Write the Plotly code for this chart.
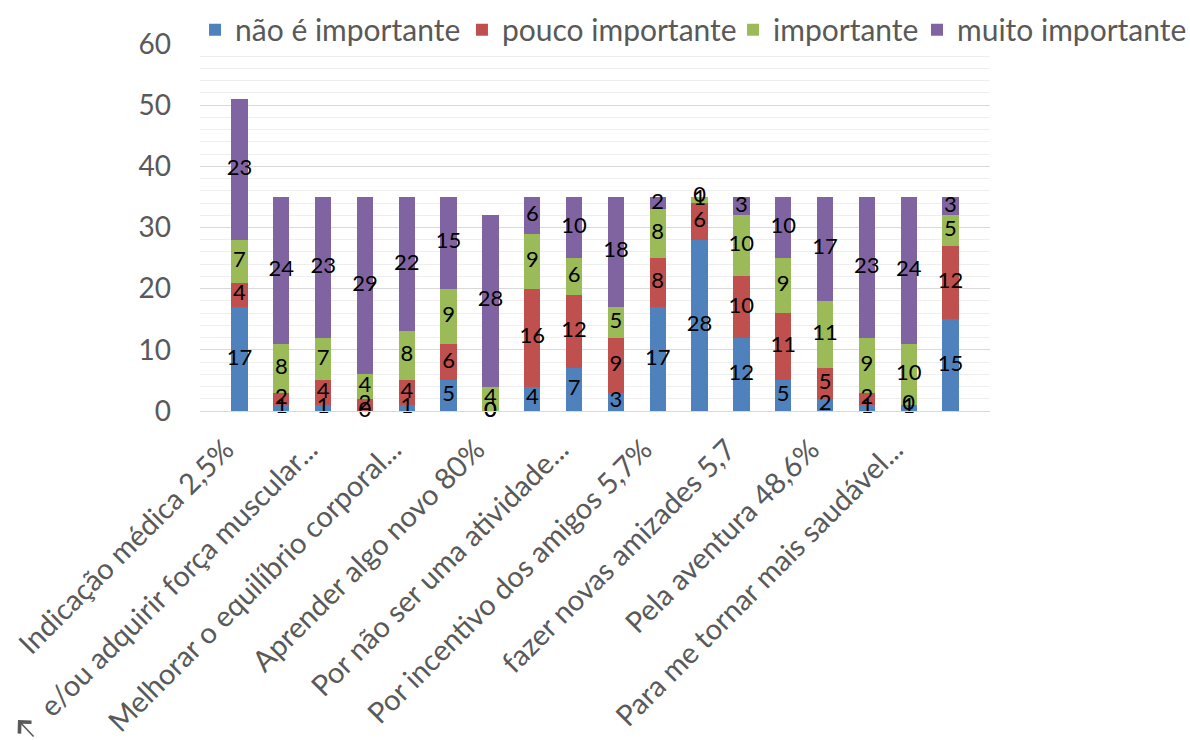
import plotly.graph_objects as go

categories = [
    "Indicação médica 2,5%",
    "Melhorar a condição física",
    "e/ou adquirir força muscular...",
    "Reduzir o estresse",
    "Melhorar o equilíbrio corporal...",
    "Melhorar a flexibilidade",
    "Aprender algo novo 80%",
    "Pelo contato com a natureza",
    "Por não ser uma atividade...",
    "Pela sensação de liberdade",
    "Por incentivo dos amigos 5,7%",
    "Para conhecer novos lugares",
    "fazer novas amizades 5,7",
    "Por lazer",
    "Pela aventura 48,6%",
    "Para superar desafios",
    "Para me tornar mais saudável...",
    "Por diversão",
]

series_names = ["não é importante", "pouco importante", "importante", "muito importante"]
nao_importante = [17, 1, 1, 0, 1, 5, 0, 4, 7, 3, 17, 28, 12, 5, 2, 1, 1, 15]
pouco_importante = [4, 2, 4, 2, 4, 6, 0, 16, 12, 9, 8, 6, 10, 11, 5, 2, 0, 12]
importante = [7, 8, 7, 4, 8, 9, 4, 9, 6, 5, 8, 1, 10, 9, 11, 9, 10, 5]
muito_importante = [23, 24, 23, 29, 22, 15, 28, 6, 10, 18, 2, 0, 3, 10, 17, 23, 24, 3]

y_ticks = [0, 10, 20, 30, 40, 50, 60]
shown_tick_idx = list(range(0, 18, 2))

colors = ["#4F81BD", "#C0504D", "#9BBB59", "#8064A2"]
series = [nao_importante, pouco_importante, importante, muito_importante]
legend_ids = ["legend", "legend2", "legend3", "legend4"]
legend_x = [0.1639, 0.3882, 0.6160, 0.7706]

FONT = "Lato"
fig = go.Figure()

for name, vals, col, lid in zip(series_names, series, colors, legend_ids):
    fig.add_trace(go.Bar(
        x=categories, y=vals, name=name,
        marker=dict(color=col, line=dict(width=0)),
        hoverinfo="skip", legend=lid,
    ))

# data labels centered in each segment
base = [0] * len(categories)
for vals in series:
    mids = [b + v / 2 for b, v in zip(base, vals)]
    fig.add_trace(go.Scatter(
        x=categories, y=mids, mode="text",
        text=[str(v) for v in vals],
        textposition="middle center",
        textfont=dict(family=FONT, size=22, color="#000000"),
        showlegend=False, hoverinfo="skip", cliponaxis=False,
    ))
    base = [b + v for b, v in zip(base, vals)]

# small clipped arrow glyph at the bottom-left corner
fig.add_annotation(
    x=-0.2304, y=-0.842, xref="paper", yref="paper",
    ax=17, ay=18, axref="pixel", ayref="pixel",
    text="", showarrow=True,
    arrowhead=4, arrowsize=2, arrowwidth=1.6, arrowcolor="#595959",
)

legend_common = dict(
    orientation="h", xref="container", yref="container",
    y=0.995, xanchor="left", yanchor="top",
    font=dict(family=FONT, size=30, color="#595959"),
    itemwidth=30, bgcolor="rgba(0,0,0,0)",
)
legends = {}
for lid, lx in zip(legend_ids, legend_x):
    legends[lid] = dict(legend_common, x=lx)

fig.update_layout(
    barmode="stack",
    bargap=0.61,
    width=1190, height=740,
    margin=dict(l=200, r=200, t=44, b=329, autoexpand=False),
    paper_bgcolor="white", plot_bgcolor="white",
    font=dict(family=FONT, color="#595959"),
    showlegend=True,
    xaxis=dict(
        type="category",
        tickmode="array",
        tickvals=[categories[i] for i in shown_tick_idx],
        ticktext=[categories[i] for i in shown_tick_idx],
        tickangle=-45,
        tickfont=dict(family=FONT, size=29, color="#595959"),
        ticklabelstandoff=9, ticklabelshift=-14,
        showline=True, linecolor="#d9d9d9", linewidth=1,
        showgrid=False, ticks="",
    ),
    yaxis=dict(
        range=[0, 60],
        tickmode="array", tickvals=y_ticks,
        tickfont=dict(family=FONT, size=28, color="#595959"),
        showgrid=True, gridcolor="#d9d9d9", gridwidth=1,
        zeroline=False, showline=False,
        ticks="", ticklabelstandoff=28,
        minor=dict(dtick=2, showgrid=True, gridcolor="#eeeeee", gridwidth=1),
    ),
    **legends,
)

fig.write_html("out.html")
